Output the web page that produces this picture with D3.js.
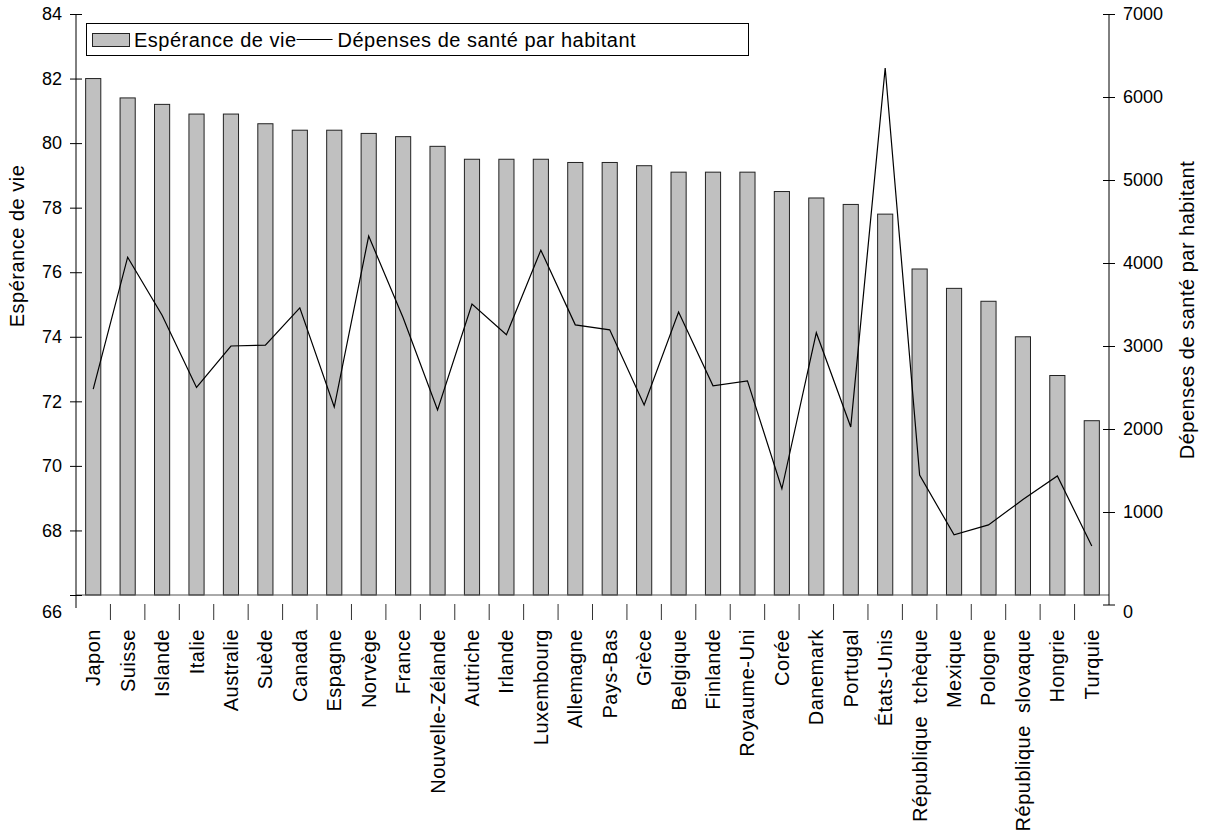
<!DOCTYPE html>
<html lang="fr">
<head>
<meta charset="utf-8">
<script src="https://cdn.jsdelivr.net/npm/d3@7"></script>
<style>
  html, body { margin: 0; padding: 0; background: #fff; }
  svg { display: block; font-family: "Liberation Sans", Arial, sans-serif; }
  .lbl { font-size: 20px; letter-spacing: 0.5px; white-space: pre; }
  .num { font-size: 18px; }
</style>
</head>
<body>
<script>
// Pays de l'OCDE, triés par espérance de vie décroissante
const countries = [
  "Japon", "Suisse", "Islande", "Italie", "Australie", "Suède", "Canada",
  "Espagne", "Norvège", "France", "Nouvelle-Zélande", "Autriche", "Irlande",
  "Luxembourg", "Allemagne", "Pays-Bas", "Grèce", "Belgique", "Finlande",
  "Royaume-Uni", "Corée", "Danemark", "Portugal", "États-Unis",
  "République  tchèque", "Mexique", "Pologne", "République  slovaque",
  "Hongrie", "Turquie"
];

// Espérance de vie à la naissance (années)
const lifeExpectancy = [
  82.0, 81.4, 81.2, 80.9, 80.9, 80.6, 80.4, 80.4, 80.3, 80.2,
  79.9, 79.5, 79.5, 79.5, 79.4, 79.4, 79.3, 79.1, 79.1, 79.1,
  78.5, 78.3, 78.1, 77.8, 76.1, 75.5, 75.1, 74.0, 72.8, 71.4
];

// Dépenses de santé par habitant
const healthSpending = [
  2480, 4070, 3370, 2500, 3000, 3010, 3460, 2265, 4325, 3340,
  2230, 3505, 3135, 4155, 3255, 3195, 2290, 3410, 2520, 2580,
  1280, 3160, 2025, 6350, 1445, 725, 845, 1150, 1435, 590
];

const leftTicks = [66, 68, 70, 72, 74, 76, 78, 80, 82, 84];
const rightTicks = [0, 1000, 2000, 3000, 4000, 5000, 6000, 7000];

const W = 1207, H = 839;
const plot = { left: 76, right: 1109, top: 14, bottom: 595 };

const svg = d3.select("body").append("svg")
  .attr("width", W).attr("height", H);

const x = d3.scaleBand().domain(countries).range([plot.left, plot.right]).padding(0);
const yL = d3.scaleLinear().domain([66, 84]).range([plot.bottom, plot.top]);
const yR = d3.scaleLinear().domain([0, 7000]).range([plot.bottom, plot.top]);

const bw = x.bandwidth();
const barW = bw * 0.44;
const center = c => x(c) + bw / 2;

// Barres : espérance de vie
svg.append("g").selectAll("rect")
  .data(countries)
  .join("rect")
  .attr("x", c => center(c) - barW / 2)
  .attr("width", barW)
  .attr("y", (c, i) => yL(lifeExpectancy[i]))
  .attr("height", (c, i) => yL(66) - yL(lifeExpectancy[i]))
  .attr("fill", "#c0c0c0")
  .attr("stroke", "#222")
  .attr("stroke-width", 1);

// Ligne de base de l'axe des catégories
svg.append("line")
  .attr("x1", plot.left).attr("x2", plot.right)
  .attr("y1", plot.bottom).attr("y2", plot.bottom)
  .attr("stroke", "#555").attr("stroke-width", 1);

// Courbe : dépenses de santé
const line = d3.line()
  .x((d, i) => center(countries[i]))
  .y(d => yR(d));
svg.append("path")
  .datum(healthSpending)
  .attr("d", line)
  .attr("fill", "none")
  .attr("stroke", "#000")
  .attr("stroke-width", 1.2);

// Axe gauche
const gL = svg.append("g")
  .attr("transform", `translate(${plot.left},0)`)
  .call(d3.axisLeft(yL).tickValues(leftTicks).tickFormat(d3.format("d"))
    .tickSizeInner(6).tickSizeOuter(0).tickPadding(8));
gL.select(".domain").remove();
gL.selectAll(".tick").append("line").attr("x2", 6).attr("stroke", "#000");
gL.selectAll(".tick text").attr("class", "num").attr("fill", "#000");
gL.selectAll(".tick").filter(d => d === 66).select("text").attr("y", 17);
gL.attr("font-family", null).attr("font-size", null);
svg.append("line")
  .attr("x1", plot.left).attr("x2", plot.left)
  .attr("y1", plot.top).attr("y2", plot.bottom + 13)
  .attr("stroke", "#000");

// Axe droit
const gR = svg.append("g")
  .attr("transform", `translate(${plot.right},0)`)
  .call(d3.axisRight(yR).tickValues(rightTicks).tickFormat(d3.format("d"))
    .tickSizeInner(6).tickSizeOuter(0).tickPadding(8));
gR.select(".domain").remove();
gR.selectAll(".tick").append("line").attr("x2", -6).attr("stroke", "#000");
gR.selectAll(".tick text").attr("class", "num").attr("fill", "#000");
gR.selectAll(".tick").filter(d => d === 0)
  .attr("transform", d => `translate(0,${yR(d) + 10})`)
  .select("text").attr("y", 7);
gR.attr("font-family", null).attr("font-size", null);
svg.append("line")
  .attr("x1", plot.right).attr("x2", plot.right)
  .attr("y1", plot.top).attr("y2", plot.bottom + 10)
  .attr("stroke", "#000");

// Graduations de l'axe des catégories
svg.append("g").selectAll("line")
  .data(countries.slice(1))
  .join("line")
  .attr("x1", c => x(c)).attr("x2", c => x(c))
  .attr("y1", plot.bottom + 9).attr("y2", plot.bottom + 25)
  .attr("stroke", "#333");

// Étiquettes des pays
svg.append("g").selectAll("text")
  .data(countries)
  .join("text")
  .attr("class", "lbl")
  .attr("transform", c => `translate(${center(c)},629) rotate(-90)`)
  .attr("text-anchor", "end")
  .attr("dy", "0.35em")
  .text(c => c);

// Titres des axes
svg.append("text")
  .attr("class", "lbl")
  .attr("transform", "translate(24,246) rotate(-90)")
  .attr("text-anchor", "middle")
  .text("Espérance de vie");
svg.append("text")
  .attr("class", "lbl")
  .attr("transform", "translate(1194,310) rotate(-90)")
  .attr("text-anchor", "middle")
  .text("Dépenses de santé par habitant");

// Légende
const lg = svg.append("g");
lg.append("rect")
  .attr("x", 86.5).attr("y", 23.5).attr("width", 662).attr("height", 32)
  .attr("fill", "#fff").attr("stroke", "#000");
lg.append("rect")
  .attr("x", 92.5).attr("y", 33.5).attr("width", 37).attr("height", 13)
  .attr("fill", "#c0c0c0").attr("stroke", "#222");
lg.append("text").attr("class", "lbl")
  .attr("x", 134).attr("y", 47)
  .text("Espérance de vie");
const t1 = lg.select("text").node().getComputedTextLength();
lg.append("line")
  .attr("x1", 134 + t1).attr("x2", 134 + t1 + 36)
  .attr("y1", 39.5).attr("y2", 39.5)
  .attr("stroke", "#000");
lg.append("text").attr("class", "lbl")
  .attr("x", 134 + t1 + 41).attr("y", 47)
  .text("Dépenses de santé par habitant");
</script>
</body>
</html>
